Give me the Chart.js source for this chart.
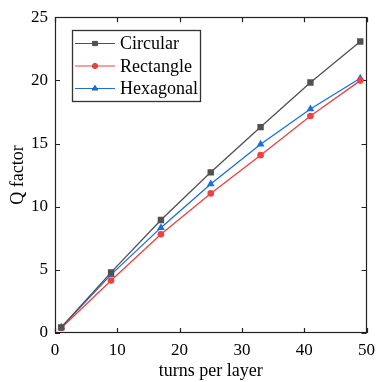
<!DOCTYPE html>
<html><head><meta charset="utf-8">
<script src="https://cdn.jsdelivr.net/npm/chart.js@4/dist/chart.umd.min.js"></script>
<style>html,body{margin:0;padding:0;background:#fff}</style>
</head><body><canvas id="c" width="382" height="382" style="width:382px;height:382px;display:block"></canvas>
<script>
const turns = [1, 9, 17, 25, 33, 41, 49];
const circular = [0.45, 4.8, 8.95, 12.72, 16.3, 19.83, 23.08];
const rectangle = [0.4, 4.15, 7.82, 11.05, 14.08, 17.18, 19.98];
const hexagonal = [0.45, 4.62, 8.34, 11.8, 14.95, 17.73, 20.17];
const seriesNames = ['Circular', 'Rectangle', 'Hexagonal'];
const xTicks = [0, 10, 20, 30, 40, 50];
const yTicks = [0, 5, 10, 15, 20, 25];

const FONT = "'Liberation Serif', 'Times New Roman', serif";
const pts = arr => turns.map((t, i) => ({x: t, y: arr[i]}));

const frame = {
  id: 'frame',
  beforeDatasetsDraw(chart) {
    const {ctx, chartArea: a, scales: {x, y}} = chart;
    ctx.save();
    ctx.strokeStyle = '#222';
    ctx.lineWidth = 1.2;
    ctx.strokeRect(Math.round(a.left) + 0.5, Math.round(a.top) + 0.5, Math.round(a.right - a.left) - 1, Math.round(a.bottom - a.top) - 1);
    const L = 5;
    ctx.beginPath();
    xTicks.forEach(v => {
      const px = Math.round(x.getPixelForValue(v)) + 0.5;
      ctx.moveTo(px, a.bottom); ctx.lineTo(px, a.bottom - L);
      ctx.moveTo(px, a.top); ctx.lineTo(px, a.top + L);
    });
    yTicks.forEach(v => {
      const py = Math.round(y.getPixelForValue(v)) + 0.5;
      ctx.moveTo(a.left, py); ctx.lineTo(a.left + L, py);
      ctx.moveTo(a.right, py); ctx.lineTo(a.right - L, py);
    });
    ctx.stroke();
    ctx.restore();
  },
  afterDraw(chart) {
    const {ctx} = chart;
    ctx.save();
    const bx = 72.5, by = 30.5, bw = 128, bh = 71;
    ctx.strokeStyle = '#333';
    ctx.lineWidth = 1.3;
    ctx.strokeRect(bx, by, bw, bh);
    ctx.font = "18px " + FONT;
    ctx.textBaseline = 'middle';
    ctx.fillStyle = '#000';
    chart.data.datasets.forEach((ds, i) => {
      const cy = 43.5 + i * 22.5;
      ctx.strokeStyle = ds.borderColor;
      ctx.lineWidth = 1.2;
      ctx.beginPath(); ctx.moveTo(75, cy); ctx.lineTo(115, cy); ctx.stroke();
      Chart.helpers.drawPoint(ctx, {pointStyle: ds.pointStyle, radius: ds.pointRadius * 0.8, borderWidth: 0}, 95, cy);
      ctx.fillStyle = ds.backgroundColor;
      ctx.fill();
      ctx.fillStyle = '#000';
      ctx.fillText(ds.label, 120, cy + 1);
    });
    ctx.restore();
  }
};

const colors = ['#515151', '#F14040', '#1A6FDF'];
const styles = ['rect', 'circle', 'triangle'];
const radii = [4.5, 3.3, 4.5];
const dataArrs = [circular, rectangle, hexagonal];

new Chart(document.getElementById('c'), {
  type: 'line',
  data: {
    datasets: dataArrs.map((d, i) => ({
      label: seriesNames[i],
      data: pts(d),
      borderColor: colors[i],
      backgroundColor: colors[i],
      borderWidth: 1.3,
      pointStyle: styles[i],
      pointRadius: radii[i],
      pointBorderWidth: 0,
      tension: 0
    }))
  },
  options: {
    responsive: false,
    devicePixelRatio: 1,
    animation: false,
    layout: {padding: {top: 15, right: 9, left: 0, bottom: 0}},
    plugins: {legend: {display: false}, tooltip: {enabled: false}},
    scales: {
      x: {
        type: 'linear', min: 0, max: 50,
        afterBuildTicks: s => { s.ticks = xTicks.map(v => ({value: v})); },
        ticks: {font: {family: FONT, size: 17}, color: '#000', padding: 7, maxRotation: 0},
        grid: {display: false, drawTicks: false},
        border: {display: false},
        title: {display: true, text: 'turns per layer', font: {family: FONT, size: 18}, color: '#000', padding: {top: 0, bottom: 0}},
        afterFit: s => { s.height = 49; }
      },
      y: {
        type: 'linear', min: 0, max: 25,
        afterBuildTicks: s => { s.ticks = yTicks.map(v => ({value: v})); },
        ticks: {font: {family: FONT, size: 17}, color: '#000', padding: 7},
        grid: {display: false, drawTicks: false},
        border: {display: false},
        title: {display: true, text: 'Q factor', font: {family: FONT, size: 18}, color: '#000', padding: {top: 7, bottom: 0}},
        afterFit: s => { s.width = 55; }
      }
    }
  },
  plugins: [frame]
});
</script>
</body></html>
